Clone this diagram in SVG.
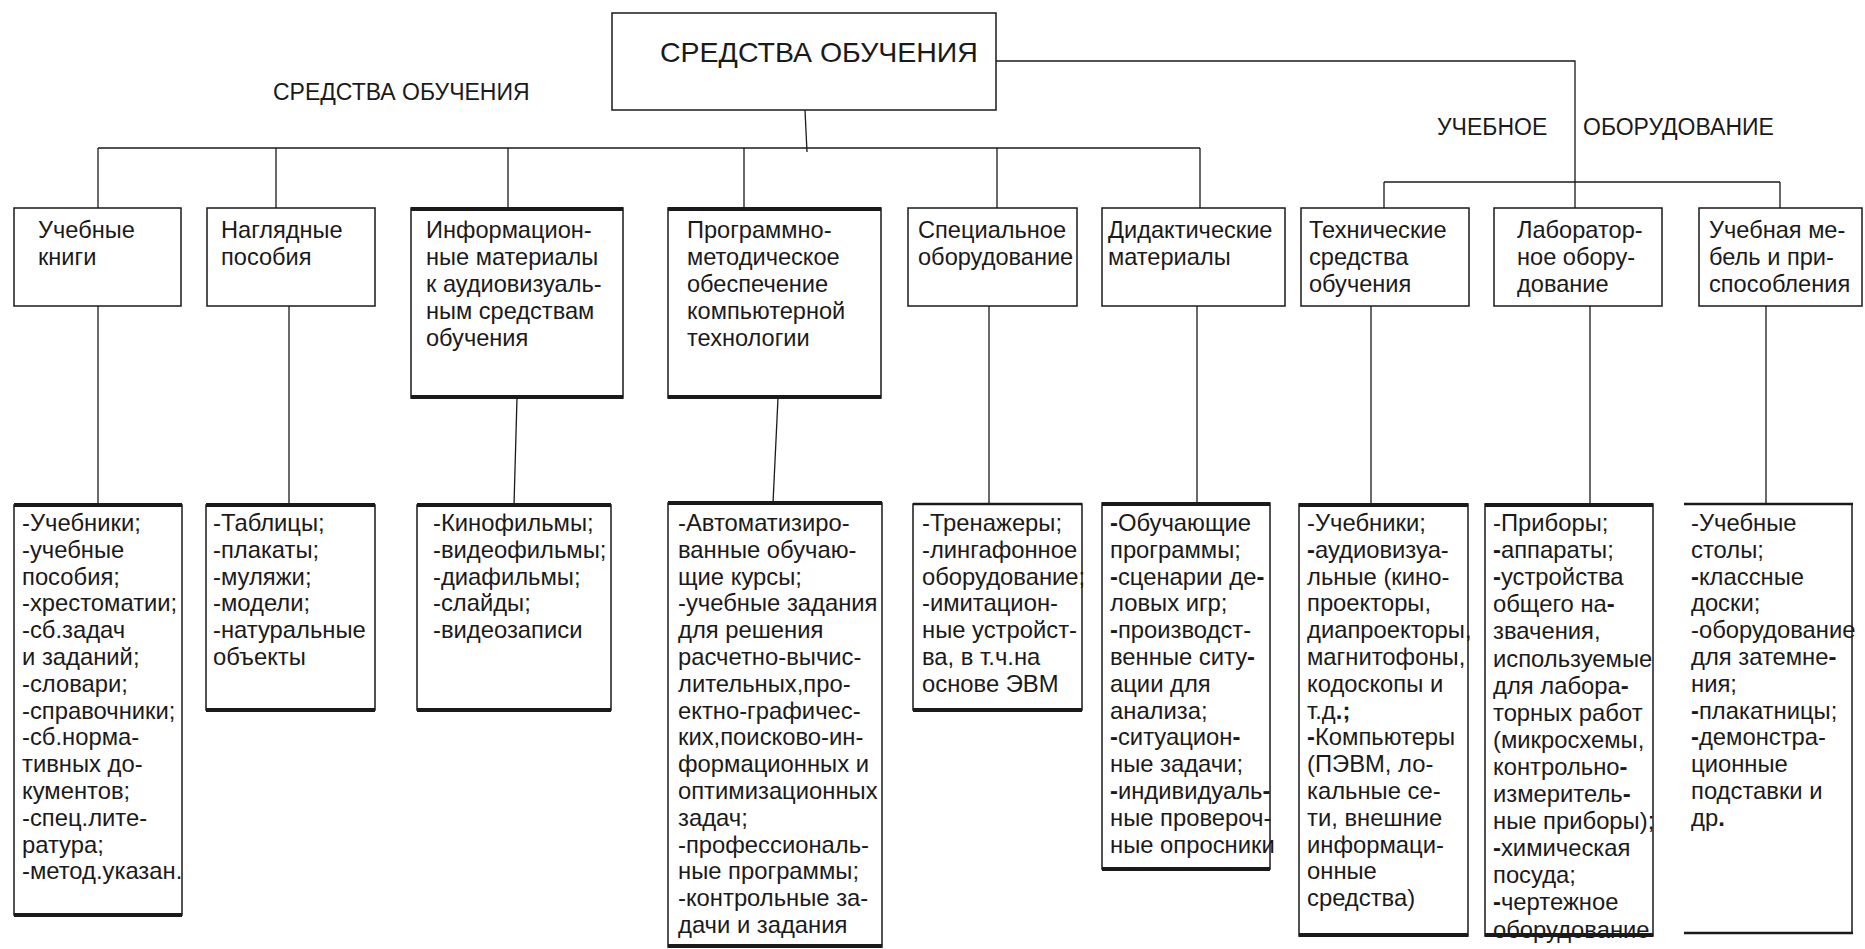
<svg xmlns="http://www.w3.org/2000/svg" width="1865" height="949" viewBox="0 0 1865 949">
  <style>
    .box { fill: #ffffff; stroke: #1a1a1a; stroke-width: 1.5; }
    .side { fill: none; stroke: #1a1a1a; stroke-width: 1.5; }
    .bar { stroke: #1a1a1a; stroke-width: 4; }
    .bar-m { stroke: #1a1a1a; stroke-width: 2.5; }
    .wire { fill: none; stroke: #1a1a1a; stroke-width: 1.3; }
    text { font-family: "Liberation Sans", Arial, "Noto Sans", sans-serif; fill: #1a1a1a; }
    .title { font-size: 28.5px; }
    .label { font-size: 23px; }
    .h { font-size: 23.6px; }
    .t { font-size: 23.8px; }
    .b { font-weight: bold; }
  </style>

  <!-- connectors -->
  <g id="connectors">
    <line class="wire" x1="805" y1="110" x2="807" y2="152"/>
    <line class="wire" x1="98" y1="148" x2="1200" y2="148"/>
    <line class="wire" x1="98" y1="148" x2="98" y2="208"/>
    <line class="wire" x1="276" y1="148" x2="276" y2="208"/>
    <line class="wire" x1="508" y1="148" x2="508" y2="208"/>
    <line class="wire" x1="744" y1="148" x2="744" y2="208"/>
    <line class="wire" x1="997" y1="148" x2="997" y2="208"/>
    <line class="wire" x1="1200" y1="148" x2="1200" y2="208"/>
    <polyline class="wire" points="996,61 1575,61 1575,208"/>
    <line class="wire" x1="1384" y1="182" x2="1780" y2="182"/>
    <line class="wire" x1="1384" y1="182" x2="1384" y2="208"/>
    <line class="wire" x1="1780" y1="182" x2="1780" y2="208"/>
    <line class="wire" x1="98" y1="306" x2="98" y2="505"/>
    <line class="wire" x1="289" y1="306" x2="289" y2="505"/>
    <line class="wire" x1="517" y1="398" x2="514" y2="505"/>
    <line class="wire" x1="778" y1="398" x2="773" y2="503"/>
    <line class="wire" x1="989" y1="306" x2="989" y2="504"/>
    <line class="wire" x1="1197" y1="306" x2="1197" y2="503"/>
    <line class="wire" x1="1371" y1="306" x2="1371" y2="504"/>
    <line class="wire" x1="1590" y1="306" x2="1590" y2="504"/>
    <line class="wire" x1="1766" y1="306" x2="1766" y2="504"/>
  </g>

  <!-- root node -->
  <g id="root">
    <rect class="box" x="612" y="13" width="384" height="97"/>
    <text class="title" x="660" y="62">СРЕДСТВА ОБУЧЕНИЯ</text>
  </g>

  <!-- group captions -->
  <g id="captions">
    <text class="label" x="273" y="100">СРЕДСТВА ОБУЧЕНИЯ</text>
    <text class="label" x="1437" y="135">УЧЕБНОЕ</text>
    <text class="label" x="1583" y="135">ОБОРУДОВАНИЕ</text>
  </g>

  <!-- upper row: categories -->
  <g id="cat-books">
    <rect class="box" x="14" y="208" width="167" height="98"/>
    <text class="h" x="38" y="238">Учебные<tspan x="38" dy="27">книги</tspan></text>
  </g>
  <g id="cat-visual">
    <rect class="box" x="207" y="208" width="168" height="98"/>
    <text class="h" x="221" y="238">Наглядные<tspan x="221" dy="27">пособия</tspan></text>
  </g>
  <g id="cat-av-info">
    <rect class="box" x="411" y="208" width="212" height="190"/>
    <line class="bar" x1="411" y1="209" x2="623" y2="209"/>
    <line class="bar" x1="411" y1="397" x2="623" y2="397"/>
    <text class="h" x="426" y="238">Информацион-<tspan x="426" dy="27">ные материалы</tspan><tspan x="426" dy="27">к аудиовизуаль-</tspan><tspan x="426" dy="27">ным средствам</tspan><tspan x="426" dy="27">обучения</tspan></text>
  </g>
  <g id="cat-software">
    <rect class="box" x="668" y="208" width="213" height="190"/>
    <line class="bar" x1="668" y1="209" x2="881" y2="209"/>
    <line class="bar" x1="668" y1="397" x2="881" y2="397"/>
    <text class="h" x="687" y="238">Программно-<tspan x="687" dy="27">методическое</tspan><tspan x="687" dy="27">обеспечение</tspan><tspan x="687" dy="27">компьютерной</tspan><tspan x="687" dy="27">технологии</tspan></text>
  </g>
  <g id="cat-special">
    <rect class="box" x="908" y="208" width="169" height="98"/>
    <text class="h" x="918" y="238">Специальное<tspan x="918" dy="27">оборудование</tspan></text>
  </g>
  <g id="cat-didactic">
    <rect class="box" x="1102" y="208" width="183" height="98"/>
    <text class="h" x="1108" y="238">Дидактические<tspan x="1108" dy="27">материалы</tspan></text>
  </g>
  <g id="cat-technical">
    <rect class="box" x="1301" y="208" width="168" height="98"/>
    <text class="h" x="1309" y="238">Технические<tspan x="1309" dy="27">средства</tspan><tspan x="1309" dy="27">обучения</tspan></text>
  </g>
  <g id="cat-lab">
    <rect class="box" x="1494" y="208" width="168" height="98"/>
    <text class="h" x="1517" y="238">Лаборатор-<tspan x="1517" dy="27">ное обору-</tspan><tspan x="1517" dy="27">дование</tspan></text>
  </g>
  <g id="cat-furniture">
    <rect class="box" x="1699" y="208" width="163" height="98"/>
    <text class="h" x="1709" y="238">Учебная ме-<tspan x="1709" dy="27">бель и при-</tspan><tspan x="1709" dy="27">способления</tspan></text>
  </g>

  <!-- lower row: item lists -->
  <g id="list-books">
    <rect class="box" x="14" y="505" width="168" height="410"/>
    <text class="t" x="22" y="531">-Учебники;<tspan x="22" dy="26.8">-учебные</tspan><tspan x="22" dy="26.8">пособия;</tspan><tspan x="22" dy="26.8">-хрестоматии;</tspan><tspan x="22" dy="26.8">-сб.задач</tspan><tspan x="22" dy="26.8">и заданий;</tspan><tspan x="22" dy="26.8">-словари;</tspan><tspan x="22" dy="26.8">-справочники;</tspan><tspan x="22" dy="26.8">-сб.норма-</tspan><tspan x="22" dy="26.8">тивных до-</tspan><tspan x="22" dy="26.8">кументов;</tspan><tspan x="22" dy="26.8">-спец.лите-</tspan><tspan x="22" dy="26.8">ратура;</tspan><tspan x="22" dy="26.8">-метод.указан.</tspan></text>
    <line class="bar" x1="14" y1="505" x2="182" y2="505"/>
    <line class="bar" x1="14" y1="915" x2="182" y2="915"/>
  </g>
  <g id="list-visual">
    <rect class="box" x="206" y="505" width="169" height="205"/>
    <text class="t" x="213" y="531">-Таблицы;<tspan x="213" dy="26.8">-плакаты;</tspan><tspan x="213" dy="26.8">-муляжи;</tspan><tspan x="213" dy="26.8">-модели;</tspan><tspan x="213" dy="26.8">-натуральные</tspan><tspan x="213" dy="26.8">объекты</tspan></text>
    <line class="bar" x1="206" y1="505" x2="375" y2="505"/>
    <line class="bar" x1="206" y1="710" x2="375" y2="710"/>
  </g>
  <g id="list-av-info">
    <rect class="box" x="417" y="505" width="194" height="205"/>
    <text class="t" x="433" y="531">-Кинофильмы;<tspan x="433" dy="26.8">-видеофильмы;</tspan><tspan x="433" dy="26.8">-диафильмы;</tspan><tspan x="433" dy="26.8">-слайды;</tspan><tspan x="433" dy="26.8">-видеозаписи</tspan></text>
    <line class="bar" x1="417" y1="505" x2="611" y2="505"/>
    <line class="bar" x1="417" y1="710" x2="611" y2="710"/>
  </g>
  <g id="list-software">
    <rect class="box" x="668" y="503" width="214" height="444"/>
    <text class="t" x="678" y="531">-Автоматизиро-<tspan x="678" dy="26.8">ванные обучаю-</tspan><tspan x="678" dy="26.8">щие курсы;</tspan><tspan x="678" dy="26.8">-учебные задания</tspan><tspan x="678" dy="26.8">для решения</tspan><tspan x="678" dy="26.8">расчетно-вычис-</tspan><tspan x="678" dy="26.8">лительных,про-</tspan><tspan x="678" dy="26.8">ектно-графичес-</tspan><tspan x="678" dy="26.8">ких,поисково-ин-</tspan><tspan x="678" dy="26.8">формационных и</tspan><tspan x="678" dy="26.8">оптимизационных</tspan><tspan x="678" dy="26.8">задач;</tspan><tspan x="678" dy="26.8">-профессиональ-</tspan><tspan x="678" dy="26.8">ные программы;</tspan><tspan x="678" dy="26.8">-контрольные за-</tspan><tspan x="678" dy="26.8">дачи и задания</tspan></text>
    <line class="bar" x1="668" y1="503" x2="882" y2="503"/>
    <line class="bar" x1="668" y1="946" x2="882" y2="946"/>
  </g>
  <g id="list-special">
    <rect class="box" x="913" y="504" width="169" height="206"/>
    <text class="t" x="922" y="531">-Тренажеры;<tspan x="922" dy="26.8">-лингафонное</tspan><tspan x="922" dy="26.8">оборудование;</tspan><tspan x="922" dy="26.8">-имитацион-</tspan><tspan x="922" dy="26.8">ные устройст-</tspan><tspan x="922" dy="26.8">ва, в т.ч.на</tspan><tspan x="922" dy="26.8">основе ЭВМ</tspan></text>
    <line class="bar-m" x1="913" y1="504" x2="1082" y2="504"/>
    <line class="bar" x1="913" y1="710" x2="1082" y2="710"/>
  </g>
  <g id="list-didactic">
    <rect class="box" x="1102" y="503" width="168" height="366"/>
    <text class="t" x="1110" y="531"><tspan class="b">-</tspan>Обучающие<tspan x="1110" dy="26.8">программы;</tspan><tspan x="1110" dy="26.8"><tspan class="b">-</tspan>сценарии де<tspan class="b">-</tspan></tspan><tspan x="1110" dy="26.8">ловых игр;</tspan><tspan x="1110" dy="26.8"><tspan class="b">-</tspan>производст-</tspan><tspan x="1110" dy="26.8">венные ситу<tspan class="b">-</tspan></tspan><tspan x="1110" dy="26.8">ации для</tspan><tspan x="1110" dy="26.8">анализа;</tspan><tspan x="1110" dy="26.8"><tspan class="b">-</tspan>ситуацион<tspan class="b">-</tspan></tspan><tspan x="1110" dy="26.8">ные задачи;</tspan><tspan x="1110" dy="26.8"><tspan class="b">-</tspan>индивидуаль<tspan class="b">-</tspan></tspan><tspan x="1110" dy="26.8">ные провероч-</tspan><tspan x="1110" dy="26.8">ные опросники</tspan></text>
    <line class="bar" x1="1102" y1="504" x2="1270" y2="504"/>
    <line class="bar" x1="1102" y1="869" x2="1270" y2="869"/>
  </g>
  <g id="list-technical">
    <rect class="box" x="1299" y="504" width="169" height="432"/>
    <text class="t" x="1307" y="531">-Учебники;<tspan x="1307" dy="26.8"><tspan class="b">-</tspan>аудиовизуа-</tspan><tspan x="1307" dy="26.8">льные (кино-</tspan><tspan x="1307" dy="26.8">проекторы,</tspan><tspan x="1307" dy="26.8">диапроекторы,</tspan><tspan x="1307" dy="26.8">магнитофоны,</tspan><tspan x="1307" dy="26.8">кодоскопы и</tspan><tspan x="1307" dy="26.8">т.д<tspan class="b">.;</tspan></tspan><tspan x="1307" dy="26.8"><tspan class="b">-</tspan>Компьютеры</tspan><tspan x="1307" dy="26.8">(ПЭВМ, ло-</tspan><tspan x="1307" dy="26.8">кальные се-</tspan><tspan x="1307" dy="26.8">ти, внешние</tspan><tspan x="1307" dy="26.8">информаци-</tspan><tspan x="1307" dy="26.8">онные</tspan><tspan x="1307" dy="26.8">средства)</tspan></text>
    <line class="bar" x1="1299" y1="505" x2="1468" y2="505"/>
    <line class="bar" x1="1299" y1="935" x2="1468" y2="935"/>
  </g>
  <g id="list-lab">
    <rect class="box" x="1485" y="504" width="168" height="432"/>
    <!-- last line runs under the bottom bar -->
    <text class="t" x="1493" y="531">-Приборы;<tspan x="1493" dy="27.1"><tspan class="b">-</tspan>аппараты;</tspan><tspan x="1493" dy="27.1"><tspan class="b">-</tspan>устройства</tspan><tspan x="1493" dy="27.1">общего на<tspan class="b">-</tspan></tspan><tspan x="1493" dy="27.1">звачения,</tspan><tspan x="1493" dy="27.1">используемые</tspan><tspan x="1493" dy="27.1">для лабора<tspan class="b">-</tspan></tspan><tspan x="1493" dy="27.1">торных работ</tspan><tspan x="1493" dy="27.1">(микросхемы,</tspan><tspan x="1493" dy="27.1">контрольно<tspan class="b">-</tspan></tspan><tspan x="1493" dy="27.1">измеритель<tspan class="b">-</tspan></tspan><tspan x="1493" dy="27.1">ные приборы);</tspan><tspan x="1493" dy="27.1"><tspan class="b">-</tspan>химическая</tspan><tspan x="1493" dy="27.1">посуда;</tspan><tspan x="1493" dy="27.1"><tspan class="b">-</tspan>чертежное</tspan><tspan x="1493" dy="27.1">оборудование</tspan></text>
    <line class="bar" x1="1485" y1="935" x2="1653" y2="935"/>
    <line class="bar" x1="1485" y1="505" x2="1653" y2="505"/>
  </g>
  <g id="list-furniture">
    <path class="side" d="M1852,504 V933"/>
    <text class="t" x="1691" y="531">-Учебные<tspan x="1691" dy="26.8">столы;</tspan><tspan x="1691" dy="26.8"><tspan class="b">-</tspan>классные</tspan><tspan x="1691" dy="26.8">доски;</tspan><tspan x="1691" dy="26.8">-оборудование</tspan><tspan x="1691" dy="26.8">для затемне<tspan class="b">-</tspan></tspan><tspan x="1691" dy="26.8">ния;</tspan><tspan x="1691" dy="26.8"><tspan class="b">-</tspan>плакатницы;</tspan><tspan x="1691" dy="26.8"><tspan class="b">-</tspan>демонстра-</tspan><tspan x="1691" dy="26.8">ционные</tspan><tspan x="1691" dy="26.8">подставки и</tspan><tspan x="1691" dy="26.8">др<tspan class="b">.</tspan></tspan></text>
    <line class="bar-m" x1="1684" y1="504" x2="1853" y2="504"/>
    <line class="bar-m" x1="1684" y1="933" x2="1853" y2="933"/>
  </g>
</svg>
